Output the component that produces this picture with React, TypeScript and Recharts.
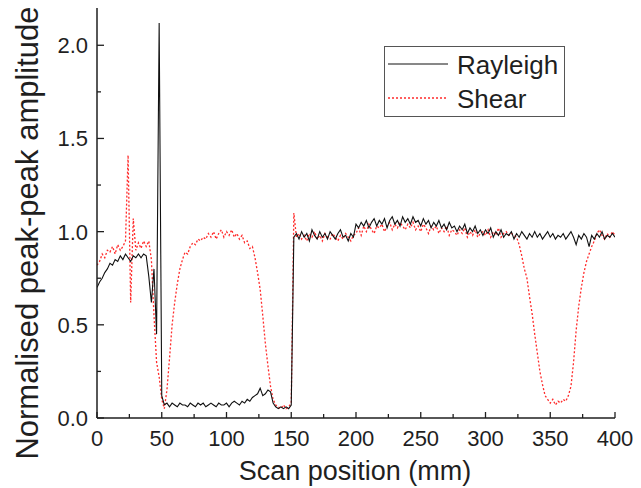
import { LineChart, Line, XAxis, YAxis, Legend, Label } from 'recharts';

// scan positions every 2 mm, 0..400
const STEP = 2;
const positions = Array.from({ length: 201 }, (_, i) => i * STEP);

const rayleigh = [
  0.70, 0.73, 0.75, 0.78, 0.80, 0.83, 0.82, 0.85, 0.84, 0.87,
  0.85, 0.88, 0.86, 0.84, 0.87, 0.86, 0.88, 0.86, 0.88, 0.87,
  0.76, 0.62, 0.80, 0.45, 2.12, 0.12, 0.07, 0.08, 0.06, 0.08,
  0.07, 0.06, 0.08, 0.07, 0.07, 0.06, 0.08, 0.07, 0.06, 0.08,
  0.07, 0.08, 0.06, 0.07, 0.08, 0.07, 0.06, 0.08, 0.07, 0.07,
  0.08, 0.06, 0.08, 0.09, 0.08, 0.07, 0.09, 0.08, 0.10, 0.09,
  0.11, 0.12, 0.13, 0.16, 0.12, 0.13, 0.15, 0.14, 0.08, 0.06,
  0.05, 0.06, 0.05, 0.06, 0.05, 0.07, 0.97, 0.99, 0.96, 1.00,
  0.97, 0.99, 0.95, 1.01, 0.98, 0.96, 1.00, 0.97, 0.99, 0.96,
  1.00, 0.98, 0.96, 0.99, 1.01, 0.97, 0.98, 0.95, 0.99, 0.97,
  1.04, 1.02, 1.05, 1.03, 1.06, 1.02, 1.05, 1.07, 1.03, 1.06,
  1.04, 1.07, 1.02, 1.06, 1.08, 1.04, 1.06, 1.03, 1.08, 1.05,
  1.07, 1.04, 1.08, 1.05, 1.06, 1.03, 1.07, 1.04, 1.06, 1.02,
  1.05, 1.03, 1.06, 1.02, 1.04, 1.01, 1.05, 1.02, 1.03, 1.00,
  1.03, 1.01, 1.04, 0.99, 1.02, 1.00, 1.03, 0.99, 1.01, 0.98,
  1.01, 0.99, 1.02, 0.97, 1.00, 0.98, 1.01, 0.97, 0.99, 0.98,
  1.00, 0.96, 0.99, 0.97, 1.00, 0.98, 0.96, 0.99, 0.97, 1.00,
  0.97, 0.99, 0.96, 0.98, 1.00, 0.97, 0.99, 0.96, 0.98, 0.97,
  0.99, 0.96, 0.98, 1.00, 0.97, 0.93, 0.98, 0.96, 0.99, 0.97,
  0.92, 0.98, 0.96, 0.99, 0.97, 1.00, 0.96, 0.98, 0.97, 0.99,
  0.97,
];

const shear = [
  0.82, 0.84, 0.88, 0.86, 0.90, 0.89, 0.92, 0.88, 0.93, 0.90,
  0.92, 0.95, 1.41, 0.62, 1.07, 0.90, 0.94, 0.91, 0.95, 0.92,
  0.95, 0.85, 0.55, 0.30, 0.22, 0.10, 0.05, 0.15, 0.32, 0.50,
  0.62, 0.72, 0.80, 0.85, 0.89, 0.88, 0.92, 0.94, 0.93, 0.96,
  0.95, 0.97, 0.96, 0.99, 0.97, 1.00, 0.96, 0.99, 1.01, 0.97,
  1.00, 0.98, 1.01, 0.97, 0.99, 0.96, 0.98, 0.94, 0.95, 0.91,
  0.92, 0.86, 0.78, 0.69, 0.55, 0.40, 0.28, 0.17, 0.10, 0.07,
  0.06, 0.05, 0.07, 0.05, 0.06, 0.08, 1.10, 0.97, 0.99, 0.96,
  0.98, 0.95, 0.99, 0.97, 1.00, 0.96, 0.98, 0.95, 0.99, 0.97,
  0.96, 0.99, 0.97, 0.95, 0.98, 0.96, 0.99, 0.97, 0.95, 0.98,
  0.99, 1.02, 0.98, 1.03, 1.00, 1.04, 1.01, 0.99, 1.03, 1.02,
  1.04, 1.00, 1.03, 1.05, 1.01, 1.04, 1.02, 1.05, 1.03, 1.01,
  1.04, 1.02, 1.05, 1.01, 1.03, 1.00, 1.04, 1.02, 0.99, 1.03,
  1.01, 1.03, 0.99, 1.02, 1.00, 1.03, 0.98, 1.01, 1.00, 0.98,
  1.01, 0.99, 1.02, 0.97, 1.00, 0.98, 1.01, 0.97, 0.99, 1.00,
  0.98, 1.01, 0.97, 1.00, 0.98, 1.02, 0.97, 0.99, 1.00, 0.98,
  0.99, 0.98, 0.97, 0.93, 0.87, 0.80, 0.75, 0.65, 0.56, 0.45,
  0.35, 0.25, 0.18, 0.12, 0.10, 0.08, 0.10, 0.07, 0.09, 0.08,
  0.10, 0.09, 0.12, 0.17, 0.30, 0.47, 0.60, 0.70, 0.78, 0.84,
  0.88, 0.92, 0.95, 0.99, 1.01, 0.98, 0.96, 0.99, 0.97, 1.00,
  0.98,
];

const xTicks = [0, 25, 50, 75, 100, 125, 150, 175, 200, 225, 250, 275, 300, 325, 350, 375, 400];
const yTicks = [0, 0.25, 0.5, 0.75, 1.0, 1.25, 1.5, 1.75, 2.0];

const data = positions.map((x, i) => ({ x, rayleigh: rayleigh[i], shear: shear[i] }));

const FONT = '"Liberation Sans", Arial, Helvetica, sans-serif';
const INK = '#1f1f1f';
const RED = '#ff2a2a';

const isMajorX = (v: number) => v % 50 === 0;
const isMajorY = (v: number) => Math.abs(v * 2 - Math.round(v * 2)) < 1e-6;

function BottomTick({ x, y, payload }: any) {
  const major = isMajorX(payload.value);
  return (
    <g>
      <line x1={x} x2={x} y1={y} y2={y - (major ? 6 : 4)} stroke={INK} strokeWidth={1.3} />
      {major && (
        <text x={x} y={y + 28} textAnchor='middle' fontSize={22} fontFamily={FONT} fill={INK}>
          {payload.value}
        </text>
      )}
    </g>
  );
}

function TopTick({ x, y, payload }: any) {
  const major = isMajorX(payload.value);
  return <line x1={x} x2={x} y1={y} y2={y + (major ? 6 : 4)} stroke={INK} strokeWidth={1.3} />;
}

function LeftTick({ x, y, payload }: any) {
  const major = isMajorY(payload.value);
  return (
    <g>
      <line x1={x} x2={x + (major ? 7 : 4)} y1={y} y2={y} stroke={INK} strokeWidth={1.3} />
      {major && (
        <text x={x - 9} y={y + 8} textAnchor='end' fontSize={22} fontFamily={FONT} fill={INK}>
          {payload.value.toFixed(1)}
        </text>
      )}
    </g>
  );
}

function RightTick({ x, y, payload }: any) {
  const major = isMajorY(payload.value);
  return <line x1={x} x2={x - (major ? 7 : 4)} y1={y} y2={y} stroke={INK} strokeWidth={1.3} />;
}

function LegendBox({ payload }: any) {
  const items = payload || [];
  return (
    <svg width={181} height={72} style={{ display: 'block' }}>
      <rect x={0.5} y={0.5} width={180} height={70} fill='#fff' stroke='#555' strokeWidth={1} />
      {items.map((it: any, i: number) => {
        const cy = 18 + i * 34;
        return (
          <g key={it.value}>
            <line
              x1={4}
              x2={64}
              y1={cy}
              y2={cy}
              stroke={it.color}
              strokeWidth={it.payload?.strokeDasharray ? 1.3 : 1}
              strokeDasharray={it.payload?.strokeDasharray}
            />
            <text x={73} y={cy + 10} fontSize={26} fontFamily={FONT} fill={INK}>
              {it.value}
            </text>
          </g>
        );
      })}
    </svg>
  );
}

export default function App() {
  return (
    <div style={{ position: 'absolute', left: 0, top: 0, background: '#fff' }}>
      <LineChart width={641} height={488} data={data} margin={{ top: 8, right: 26, left: 0, bottom: 0 }}>
        <XAxis
          xAxisId='b'
          dataKey='x'
          type='number'
          domain={[0, 400]}
          ticks={xTicks}
          interval={0}
          height={70}
          tickSize={0}
          tickMargin={0}
          tick={<BottomTick />}
          axisLine={{ stroke: INK, strokeWidth: 1.5 }}
          allowDataOverflow
        >
          <Label
            content={() => (
              <text x={355} y={480} textAnchor='middle' fontSize={27} fontFamily={FONT} fill={INK}>
                Scan position (mm)
              </text>
            )}
          />
        </XAxis>
        <XAxis
          xAxisId='t'
          orientation='top'
          type='number'
          domain={[0, 400]}
          ticks={xTicks}
          interval={0}
          height={0}
          tickSize={0}
          tickMargin={0}
          tick={<TopTick />}
          axisLine={{ stroke: INK, strokeWidth: 1.5 }}
          allowDataOverflow
        />
        <YAxis
          yAxisId='l'
          type='number'
          domain={[0, 2.2]}
          ticks={yTicks}
          interval={0}
          width={97}
          tickSize={0}
          tickMargin={0}
          tick={<LeftTick />}
          axisLine={{ stroke: INK, strokeWidth: 1.5 }}
          allowDataOverflow
        >
          <Label
            content={() => (
              <text
                x={38}
                y={233}
                transform='rotate(-90 38 233)'
                textAnchor='middle'
                fontSize={31}
                fontFamily={FONT}
                fill={INK}
              >
                Normalised peak-peak amplitude
              </text>
            )}
          />
        </YAxis>
        <YAxis
          yAxisId='r'
          orientation='right'
          type='number'
          domain={[0, 2.2]}
          ticks={yTicks}
          interval={0}
          width={0}
          tickSize={0}
          tickMargin={0}
          tick={<RightTick />}
          axisLine={{ stroke: INK, strokeWidth: 1.5 }}
          allowDataOverflow
        />
        <Legend
          layout='vertical'
          align='center'
          verticalAlign='middle'
          content={<LegendBox />}
          wrapperStyle={{ left: 384, top: 46, width: 181, height: 72 }}
        />
        <Line
          xAxisId='b'
          yAxisId='l'
          type='linear'
          dataKey='shear'
          name='Shear'
          stroke={RED}
          strokeWidth={1.3}
          strokeDasharray='2 2'
          dot={false}
          activeDot={false}
          isAnimationActive={false}
        />
        <Line
          xAxisId='b'
          yAxisId='l'
          type='linear'
          dataKey='rayleigh'
          name='Rayleigh'
          stroke='#111'
          strokeWidth={1.1}
          dot={false}
          activeDot={false}
          isAnimationActive={false}
        />
      </LineChart>
    </div>
  );
}
